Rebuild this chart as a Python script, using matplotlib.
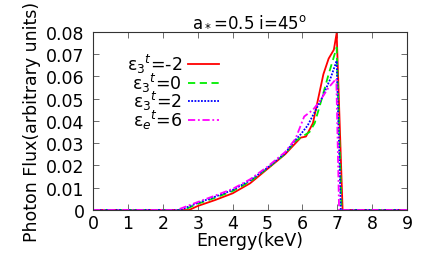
import matplotlib
matplotlib.use('Agg')
import matplotlib.pyplot as plt

# spectra (energy in keV, flux in arbitrary units)
e_m2 = [0, 2.75, 3.0, 3.5, 4.0, 4.5, 5.0, 5.5, 5.8, 5.95, 6.1, 6.3, 6.45, 6.6, 6.75, 6.9, 6.98, 7.15, 9]
f_m2 = [0, 0, 0.0018, 0.0045, 0.0075, 0.012, 0.0185, 0.025, 0.030, 0.0325, 0.033, 0.039, 0.050, 0.061, 0.068, 0.072, 0.0795, 0, 0]

e_0 = [0, 2.6, 3.0, 3.5, 4.0, 4.5, 5.0, 5.5, 5.8, 6.0, 6.2, 6.35, 6.5, 6.75, 6.98, 7.12, 9]
f_0 = [0, 0, 0.0028, 0.0055, 0.0085, 0.0128, 0.0188, 0.0252, 0.031, 0.033, 0.035, 0.039, 0.047, 0.061, 0.073, 0, 0]

e_2 = [0, 2.5, 3.0, 3.5, 4.0, 4.5, 5.0, 5.5, 5.8, 5.95, 6.15, 6.35, 6.55, 6.8, 6.98, 7.1, 9]
f_2 = [0, 0, 0.0032, 0.006, 0.009, 0.0133, 0.019, 0.0255, 0.0315, 0.034, 0.038, 0.044, 0.050, 0.059, 0.067, 0, 0]

e_6 = [0, 2.4, 3.0, 3.5, 4.0, 4.5, 5.0, 5.5, 5.8, 5.9, 6.05, 6.3, 6.5, 6.75, 6.97, 7.05, 9]
f_6 = [0, 0, 0.0036, 0.0065, 0.0095, 0.0138, 0.0195, 0.026, 0.032, 0.036, 0.042, 0.045, 0.049, 0.055, 0.059, 0, 0]

labels = [r'ε$_3$$^t$=-2', r'ε$_3$$^t$=0', r'ε$_3$$^t$=2', r'ε$_e$$^t$=6']
xticks = list(range(0, 10))
yticks = [0, 0.01, 0.02, 0.03, 0.04, 0.05, 0.06, 0.07, 0.08]

fig = plt.figure(figsize=(4.25, 2.55), dpi=100)
ax = fig.add_axes([0.219, 0.1725, 0.739, 0.6985])

ax.plot(e_m2, f_m2, color='#ff0000', lw=1.3, ls='-', label=labels[0])
ax.plot(e_0, f_0, color='#00ee00', lw=1.3, ls=(0, (4, 2.5)), label=labels[1])
ax.plot(e_2, f_2, color='#0000ff', lw=1.3, ls=(0, (1, 0.8)), label=labels[2])
ax.plot(e_6, f_6, color='#ff00ff', lw=1.3, ls=(0, (4, 1.5, 1, 1.5)), label=labels[3])

ax.set_xlim(0, 9)
ax.set_ylim(0, 0.08)
ax.set_xticks(xticks)
ax.set_yticks(yticks)
ax.set_yticklabels(['0'] + ['%.2f' % v for v in yticks[1:]])
ax.tick_params(direction='in', top=True, right=True, length=4, width=0.6,
               labelsize=12.5, color='#555555')
ax.tick_params(axis='y', pad=6)
ax.tick_params(axis='x', pad=3)
for s in ax.spines.values():
    s.set_linewidth(0.8)
    s.set_color('#333333')

ax.set_xlabel('Energy(keV)', fontsize=12.5, labelpad=-1)
ax.set_ylabel('Photon Flux(arbitrary units)', fontsize=12.5, labelpad=4)
ax.set_title(r'a$_*$=0.5 i=45$^{\rm o}$', fontsize=12, pad=5)

leg = ax.legend(loc='upper right', bbox_to_anchor=(0.441, 0.955), frameon=False,
                markerfirst=False, fontsize=12.5, handlelength=1.8,
                labelspacing=-0.26, handletextpad=0.35, borderpad=0.2)

fig.savefig('out.png', dpi=100)
